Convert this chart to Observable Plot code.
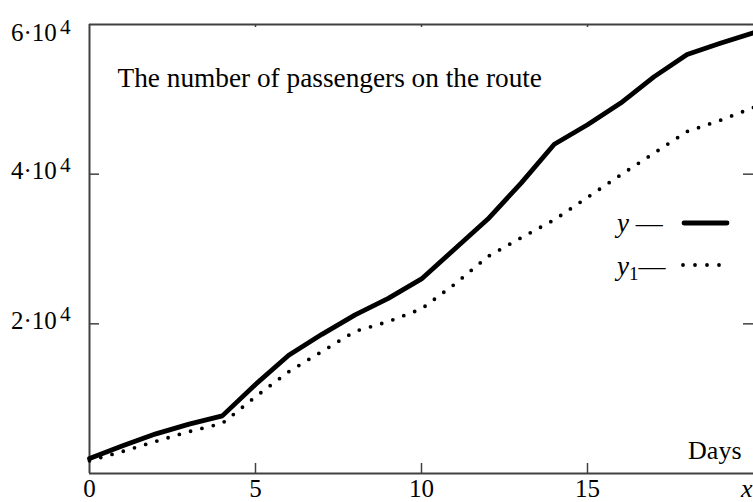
<!DOCTYPE html>
<html>
<head>
<meta charset="utf-8">
<script src="https://cdn.jsdelivr.net/npm/d3@7"></script>
<script src="https://cdn.jsdelivr.net/npm/@observablehq/plot@0.6"></script>
<style>
  html, body { margin: 0; padding: 0; background: #fff; }
  #chart { width: 753px; height: 502px; overflow: hidden; }
</style>
</head>
<body>
<div id="chart"></div>
<script>
// ---- data ----
const days = [0,1,2,3,4,5,6,7,8,9,10,11,12,13,14,15,16,17,18,19,20];
const passengersY = [2000,3700,5300,6600,7700,11900,15800,18600,21200,23400,26000,30000,34000,38800,44000,46600,49500,53000,56000,57500,58900];
const passengersY1 = [1700,2950,4300,5600,6700,10250,13600,16300,19000,20300,22000,25300,29000,31500,33900,36900,39900,42800,45700,47200,48900];
const xTicks = [5, 10, 15];
const xTickLabels = ["0", "5", "10", "15"];
const xTickValues = [0, 5, 10, 15];
const yTicks = [20000, 40000];
const yTickLabels = ["2·10^4", "4·10^4"];
const yTopValue = 60000;
const yTopLabel = "6·10^4";
const xAxisLabel = "x";
const titleText = "The number of passengers on the route";
const xUnitText = "Days";
const seriesNames = ["y", "y_1"];

const rowsY = days.map((d, i) => ({day: d, v: passengersY[i]}));
const rowsY1 = days.map((d, i) => ({day: d, v: passengersY1[i]}));

const frameColor = "#404040";
const serif = "'Liberation Serif', 'Times New Roman', serif";

const chart = Plot.plot({
  width: 753,
  height: 502,
  marginLeft: 89,
  marginRight: 0,
  marginTop: 24,
  marginBottom: 29,
  style: {fontFamily: serif, fontSize: "25px", background: "#fff", color: "#000"},
  x: {domain: [0, 20], axis: null},
  y: {domain: [0, 60000], axis: null},
  marks: [
    // frame (left, bottom, top)
    Plot.ruleX([0], {stroke: frameColor, strokeWidth: 2}),
    Plot.ruleY([0, yTopValue], {stroke: frameColor, strokeWidth: 2}),
    // inward ticks
    Plot.ruleX(xTicks, {stroke: frameColor, strokeWidth: 1.5, insetTop: 439}),
    Plot.ruleX(xTicks, {stroke: frameColor, strokeWidth: 1.5, insetBottom: 446}),
    Plot.ruleY(yTicks, {stroke: frameColor, strokeWidth: 1.5, insetRight: 654}),
    Plot.ruleY(yTicks, {stroke: frameColor, strokeWidth: 1.5, insetLeft: 654}),
    // data
    Plot.line(rowsY1, {x: "day", y: "v", stroke: "#000", strokeWidth: 3.8, strokeDasharray: "0 11.7", strokeLinecap: "round"}),
    Plot.line(rowsY, {x: "day", y: "v", stroke: "#000", strokeWidth: 4.8, strokeLinejoin: "round"}),
    // x tick labels
    Plot.text(xTickValues, {x: d => d, y: 0, text: (d, i) => xTickLabels[i], textAnchor: "middle", lineAnchor: "bottom", dy: 23, fontSize: 25}),
    Plot.text([xAxisLabel], {x: 20, y: 0, text: d => d, textAnchor: "end", lineAnchor: "bottom", dy: 23, dx: -1, fontSize: 26, fontStyle: "italic"}),
    // y tick labels
    Plot.text(yTicks, {x: 0, y: d => d, text: (d, i) => yTickLabels[i], textAnchor: "end", lineAnchor: "middle", dx: -19, dy: -3, fontSize: 25}),
    Plot.text([yTopValue], {x: 0, y: d => d, text: () => yTopLabel, textAnchor: "end", lineAnchor: "top", dx: -19, dy: -1, fontSize: 25}),
    // in-plot labels
    Plot.text([titleText], {frameAnchor: "top-left", text: d => d, textAnchor: "start", lineAnchor: "bottom", dx: 28, dy: 62, fontSize: 27.3}),
    Plot.text([xUnitText], {frameAnchor: "bottom-right", text: d => d, textAnchor: "end", lineAnchor: "bottom", dx: -12, dy: -15, fontSize: 26})
  ]
});

// superscripts for tick labels like "6·10^4"
d3.select(chart).selectAll("text").each(function() {
  const t = this.textContent;
  if (t.includes("^")) {
    const [base, sup] = t.split("^");
    const el = d3.select(this);
    el.text(null);
    el.append("tspan").text(base);
    el.append("tspan").attr("dx", 3).attr("dy", "-0.36em").attr("font-size", "0.85em").text(sup);
  }
});

// legend (inside plot area)
const svg = d3.select(chart);
const lg = svg.append("g").attr("font-family", serif).attr("fill", "#000").attr("text-anchor", "start");
function addLabel(g, name, yBase) {
  const parts = name.split("_");
  const t = g.append("text").attr("x", 617).attr("y", yBase).attr("font-size", 27).attr("text-anchor", "start");
  t.append("tspan").attr("font-style", "italic").text(parts[0]);
  if (parts[1]) {
    t.append("tspan").attr("font-size", 19).attr("dy", 5).text(parts[1]);
    t.append("tspan").attr("dy", -5).text("—");
  } else {
    t.append("tspan").text(" —");
  }
}
addLabel(lg, seriesNames[0], 232);
lg.append("line").attr("x1", 684).attr("x2", 727).attr("y1", 223).attr("y2", 223)
  .attr("stroke", "#000").attr("stroke-width", 4.8).attr("stroke-linecap", "round");
addLabel(lg, seriesNames[1], 275);
lg.append("line").attr("x1", 683).attr("x2", 722).attr("y1", 265).attr("y2", 265)
  .attr("stroke", "#000").attr("stroke-width", 3.8).attr("stroke-linecap", "round")
  .attr("stroke-dasharray", "0 12");

document.getElementById("chart").appendChild(chart);
</script>
</body>
</html>
